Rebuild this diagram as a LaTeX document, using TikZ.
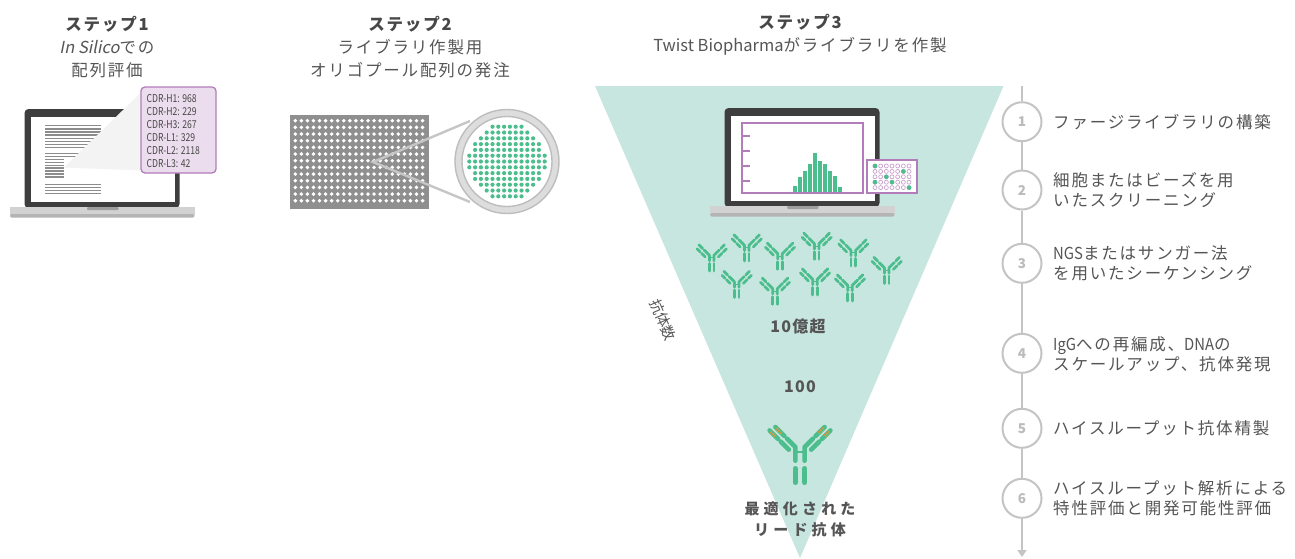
\documentclass[tikz,border=0pt]{standalone}
\usepackage{fontspec}
\usetikzlibrary{arrows.meta}
\setmainfont{Noto Sans CJK JP}
\newfontfamily\jp{Noto Sans CJK JP}[LetterSpace=11]
\newfontfamily\jpwide{Noto Sans CJK JP}[LetterSpace=28]
\newfontfamily\jpnum{Noto Sans CJK JP}[LetterSpace=8]
\newfontfamily\jpslant{Noto Sans CJK JP}[FakeSlant=0.2]
\newfontfamily\lat{Noto Sans CJK JP}[FakeStretch=0.9]
\newfontfamily\cond{Noto Sans CJK JP}[FakeStretch=0.8]

\definecolor{txt}{HTML}{555555}
\definecolor{head}{HTML}{474747}
\definecolor{funnel}{HTML}{C7E6DF}
\definecolor{abgreen}{HTML}{4CBE8D}
\definecolor{purp}{HTML}{B27DBA}
\definecolor{purplight}{HTML}{C9A2CE}
\definecolor{lav}{HTML}{ECDDEE}
\definecolor{bezel}{HTML}{3E3E3E}
\definecolor{basegray}{HTML}{D2D2D2}
\definecolor{basedark}{HTML}{B4B4B4}
\definecolor{notch}{HTML}{9E9E9E}
\definecolor{plategray}{HTML}{8F8F8F}
\definecolor{ringgray}{HTML}{DDDDDD}
\definecolor{ringedge}{HTML}{BDBDBD}
\definecolor{linegray}{HTML}{C6C6C6}
\definecolor{tlgray}{HTML}{C4C4C4}
\definecolor{numgray}{HTML}{BBBBBB}
\definecolor{stripe}{HTML}{EE9238}
\definecolor{docline}{HTML}{8C8C8C}
\definecolor{beam}{HTML}{F3F3F3}

% left half of the lead antibody, hinge at the origin, y pointing down
\newcommand\abhalf{%
  \draw (-4.6,22.3) -- (-4.6,36.7);
  \draw (-4.6,14.7) -- (-4.6,1) -- (-13,-7.4);
  \draw (-15.6,-10) -- (-24.6,-19);
  \draw (-11.2,3.6) -- (-19.2,-4.4);
  \draw (-21.8,-7) -- (-30.4,-15.6);
}
% coloured bands on its variable domains
\newcommand\abstripes{%
  \draw (-18.75,-13.15) -- (-23.25,-17.65);
  \draw (-24.8,-10) -- (-29.1,-14.3);
}
% left half of a small library antibody
\newcommand\sabhalf{%
  \draw (-2.3,9) -- (-2.3,16.5);
  \draw (-2.3,6.3) -- (-2.3,0.8) -- (-7.6,-4.5);
  \draw (-9,-5.9) -- (-12.8,-9.7);
  \draw (-6.6,2.4) -- (-10.2,-1.2);
  \draw (-11.6,-2.6) -- (-14.6,-5.6);
}

\tikzset{
  pics/antibody/.style={code={
    \begin{scope}[draw=abgreen, line width=4.6pt, line cap=round, line join=round]
      \abhalf
      \begin{scope}[xscale=-1]\abhalf\end{scope}
      \draw[line width=1.6pt, line cap=butt] (-4.6,6) -- (4.6,6);
    \end{scope}
  }},
  pics/smallab/.style={code={
    \begin{scope}[draw=abgreen, line width=2.7pt, line cap=round, line join=round]
      \sabhalf
      \begin{scope}[xscale=-1]\sabhalf\end{scope}
      \draw[line width=1pt, line cap=butt] (-2.3,3.2) -- (2.3,3.2);
    \end{scope}
  }},
  pics/laptop/.style={code={
    \fill[bezel, rounded corners=4] (0,0) rectangle (155,99);
    \fill[white] (6,7.5) rectangle (150.5,92.5);
    \fill[basegray] (-14.5,98) rectangle (170,105.5);
    \fill[basedark, rounded corners=1.5] (-14.5,105) rectangle (170,108.5);
    \fill[notch, rounded corners=1] (62.5,98) rectangle (94,101);
  }},
  title/.style={align=center, inner sep=0, text=txt,
    font=\jp\fontsize{16.5}{23}\selectfont},
  item/.style={anchor=west, align=left, inner sep=0, text=txt,
    font=\jp\fontsize{16.5}{20.5}\selectfont},
  stepcirc/.style={circle, draw=tlgray, line width=2pt, fill=white,
    minimum size=39pt, inner sep=0, text=numgray,
    font=\bfseries\fontsize{13.5}{13.5}\selectfont},
  tl/.style={draw=tlgray, line width=2pt},
  count/.style={inner sep=0, text=txt,
    font=\jpwide\bfseries\fontsize{15}{21.5}\selectfont},
  number/.style={inner sep=0, text=txt,
    font=\jpnum\bfseries\fontsize{16}{16}\selectfont},
  docl/.style={draw=docline, line width=1.4pt},
}

\begin{document}
\begin{tikzpicture}[x=1pt, y=-1pt]
\useasboundingbox (0,0) rectangle (1295,558);
\fill[white] (0,0) rectangle (1295,558);

% ---------- step 1: in silico evaluation ----------
\node[title] (s1) at (107,47.5)
  {{\color{head}\bfseries ステップ1}\\{\jpslant In Silico}での\\配列評価};
\pic at (24.5,109) {laptop};
\foreach \k in {0,...,7}
  \draw[docl] (45,{125.7+3.14*\k}) -- (100.7,{125.7+3.14*\k});
\foreach \k in {0,1}
  \draw[docl] (45,{153.3+3*\k}) -- (100.7,{153.3+3*\k});
\foreach \k in {0,...,6}
  \draw[docl] (45,{159.4+2.9*\k}) -- (64,{159.4+2.9*\k});
\foreach \k in {0,...,3}
  \draw[docl] (45,{184.3+3*\k}) -- (100.7,{184.3+3*\k});
\fill[beam] (64,167.5) -- (141.5,92) -- (141.5,170.5) -- cycle;
\node[draw=purp, fill=lav, line width=1.3pt, rounded corners=4,
      minimum width=75pt, minimum height=86pt, inner sep=0] (cdr) at (178.5,130) {};
\node[anchor=north west, align=left, inner sep=0, text=head,
      font=\cond\fontsize{10.8}{12.85}\selectfont] (cdrtext) at (146.5,94.5)
  {CDR-H1: 968\\CDR-H2: 229\\CDR-H3: 267\\CDR-L1: 329\\CDR-L2: 2118\\CDR-L3: 42};

% ---------- step 2: oligo pool order ----------
\node[title] (s2) at (410,47.5)
  {{\color{head}\bfseries ステップ2}\\ライブラリ作製用\\オリゴプール配列の発注};
\fill[plategray] (290,115) rectangle (429,209);
\foreach \i in {0,...,21}
  \foreach \j in {0,...,12}
    \fill[white] ({295.3+6.06*\i},{120.7+6.67*\j}) circle[radius=1.95];
\coordinate (well) at (373,162);
\coordinate (zoomtop) at (470,121);
\coordinate (zoombot) at (470,202);
\draw[linegray, line width=2.4pt] (zoomtop) -- (well) -- (zoombot);
\fill[ringgray, draw=ringedge, line width=1.4pt] (507,161.5) circle[radius=52];
\fill[white, draw=ringedge, line width=1.4pt] (507,161.5) circle[radius=45];
\foreach \i in {-6,...,6}{
  \foreach \j in {-7,...,6}{
    \pgfmathsetmacro\dx{5.8*(\j+0.5)}
    \pgfmathsetmacro\dy{5.8*\i}
    \pgfmathsetmacro\dd{veclen(\dx,\dy)}
    \ifdim\dd pt<38.5pt
      \fill[abgreen] ({507+(\dx)},{161.5+(\dy)}) circle[radius=2.1];
    \fi
  }
}

% ---------- step 3: library construction ----------
\node[title] (s3) at (800,35)
  {{\color{head}\bfseries ステップ3}\\{\setmainfont{Noto Sans CJK JP}\normalfont Twist Biopharma}がライブラリを作製};
\fill[funnel] (595,86) -- (1003.5,86) -- (800,558) -- cycle;
\pic at (724.5,108) {laptop};
% histogram on the screen
\draw[purp, line width=2.5pt, fill=white] (742,123) rectangle (863,193);
\foreach \t in {136,151,166,181}
  \draw[purp, line width=1.5pt] (742,\t) -- (750,\t);
\foreach \h [count=\n from 0] in {185.7,176.7,170.7,164,153.3,160.7,164,170.7,175.7,186.7}
  \fill[abgreen] ({793.3+5*\n},191.6) rectangle ({797.3+5*\n},\h);
% sample plate card
\draw[purp, line width=1.3pt, fill=white] (867,160) rectangle (917,193);
\foreach \c in {0,...,6}
  \foreach \r in {0,...,4}
    \draw[purplight, line width=0.7pt] ({875+5.67*\c},{166+5.4*\r}) circle[radius=2];
\foreach \c/\r in {0/0,5/1,2/2,0/3,3/3,6/4}
  \fill[abgreen] ({875+5.67*\c},{166+5.4*\r}) circle[radius=2.3];

% antibody population
\foreach \x/\y in {711.7/254.5, 746.7/244.5, 780/252.8, 816.7/242.8, 853.3/249.5,
                   886.7/267, 736.7/281, 775/287.8, 815/278.5, 850/284.5}
  \pic at (\x,\y) {smallab};
\node[number] (many) at (798,326) {10億超};
\node[number] (hundred) at (800,387) {100};
\node[rotate=-66.5, inner sep=0, text=txt, font=\fontsize{14.5}{14.5}\selectfont]
  (axis) at (663,320) {抗体数};

% optimised lead antibody
\pic at (800,446) {antibody};
\begin{scope}[shift={(800,446)}, draw=stripe, line width=3.3pt, dash pattern=on 1.1pt off 1.5pt]
  \abstripes
  \begin{scope}[xscale=-1]\abstripes\end{scope}
\end{scope}
\node[count, align=center] (lead) at (800,519.5) {最適化された\\リード抗体};

% ---------- workflow timeline ----------
\coordinate (tltop) at (1022,86);
\coordinate (tlend) at (1022,557);
\node[stepcirc] (c1) at (1022,121.7) {1};
\node[stepcirc] (c2) at (1022,190) {2};
\node[stepcirc] (c3) at (1022,263.3) {3};
\node[stepcirc] (c4) at (1022,353.3) {4};
\node[stepcirc] (c5) at (1022,428.3) {5};
\node[stepcirc] (c6) at (1022,498.3) {6};
\draw[tl] (tltop) -- (c1);
\draw[tl] (c1) -- (c2);
\draw[tl] (c2) -- (c3);
\draw[tl] (c3) -- (c4);
\draw[tl] (c4) -- (c5);
\draw[tl] (c5) -- (c6);
\draw[tl, -{Triangle[length=7pt,width=9pt]}] (c6) -- (tlend);

\node[item] (t1) at (1053,121.7) {ファージライブラリの構築};
\node[item] (t2) at (1053,190) {細胞またはビーズを用\\いたスクリーニング};
\node[item] (t3) at (1053,263.3) {{\lat NGS}またはサンガー法\\を用いたシーケンシング};
\node[item] (t4) at (1053,354.5) {{\lat IgG}への再編成、{\lat DNA}の\\スケールアップ、抗体発現};
\node[item] (t5) at (1053,428.3) {ハイスループット抗体精製};
\node[item] (t6) at (1053,498.3) {ハイスループット解析による\\特性評価と開発可能性評価};
\end{tikzpicture}
\end{document}
